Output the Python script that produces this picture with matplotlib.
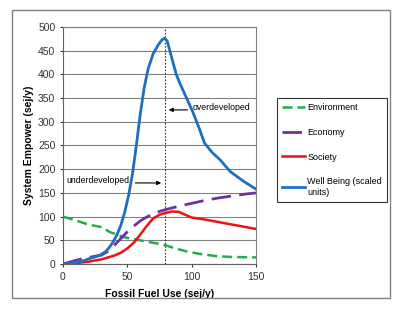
import matplotlib.pyplot as plt
from matplotlib.patches import Rectangle

plt.rcParams['font.family'] = ['Liberation Sans', 'DejaVu Sans']

# Data
env_x = [0, 10, 20, 30, 36, 42, 47, 52, 60, 70, 78, 85, 90, 97, 105, 118, 130, 150]
env_y = [100, 92, 83, 78, 68, 62, 57, 54, 50, 45, 41, 35, 31, 26, 22, 17, 15, 14]

eco_x = [0, 10, 20, 30, 35, 40, 45, 50, 55, 60, 65, 70, 75, 80, 90, 100, 110, 120, 130, 140, 150]
eco_y = [0, 8, 14, 19, 27, 40, 54, 68, 80, 91, 99, 106, 111, 115, 122, 128, 134, 139, 143, 147, 150]

soc_x = [0, 10, 20, 30, 40, 45, 50, 55, 60, 65, 70, 75, 80, 85, 90, 95, 100, 110, 120, 130, 140, 150]
soc_y = [0, 2, 5, 10, 18, 24, 33, 45, 62, 80, 96, 104, 108, 111, 110, 104, 98, 94, 89, 84, 79, 74]

wb_x = [0, 10, 16, 20, 25, 29, 33, 36, 39, 42, 45, 48, 51, 54, 57, 60, 63, 66, 70, 74, 77, 79,
        81, 84, 88, 91, 96, 101, 106, 110, 116, 122, 130, 140, 150]
wb_y = [0, 3, 7, 11, 15, 19, 26, 35, 47, 62, 82, 110, 145, 190, 250, 315, 370, 410, 443, 462, 473, 476,
        470, 440, 400, 380, 350, 320, 285, 255, 235, 220, 195, 175, 158]

threshold = 79

fig = plt.figure(figsize=(4.0, 3.24), dpi=100)
fig.patches.append(Rectangle((0.03, 0.08), 0.945, 0.889, transform=fig.transFigure,
                             fill=False, edgecolor='#808080', linewidth=1.0))

ax = fig.add_axes([0.1575, 0.185, 0.4825, 0.732])
ax.plot(env_x, env_y, color='#22ad4c', lw=1.8, ls=(0, (4, 2)), label='Environment')
ax.plot(eco_x, eco_y, color='#7030a0', lw=2.0, ls=(0, (7, 3)), label='Economy')
ax.plot(soc_x, soc_y, color='#ee1111', lw=1.8, label='Society')
ax.plot(wb_x, wb_y, color='#1f6fc0', lw=2.0, label='Well Being (scaled\nunits)')
ax.axvline(threshold, color='#333333', lw=0.8, ls=(0, (1.5, 1.5)), zorder=1)

ax.annotate('', xy=(threshold + 1, 325), xytext=(99, 325),
            arrowprops=dict(arrowstyle='-|>', color='black', lw=0.8, mutation_scale=6))
ax.text(101, 331, 'overdeveloped', fontsize=6.3, va='center', ha='left')
ax.annotate('', xy=(threshold - 0.5, 171), xytext=(54, 171),
            arrowprops=dict(arrowstyle='-|>', color='black', lw=0.8, mutation_scale=6))
ax.text(3, 177, 'underdeveloped', fontsize=6.3, va='center', ha='left')

ax.set_xlim(0, 150)
ax.set_ylim(0, 500)
ax.set_xticks([0, 50, 100, 150])
ax.set_yticks(range(0, 501, 50))
ax.yaxis.grid(True, color='#808080', lw=0.8)
ax.set_axisbelow(True)
ax.tick_params(labelsize=7.5, length=2, colors='#333333')
for s in ['top', 'right']:
    ax.spines[s].set_color('#808080')
for s in ['left', 'bottom']:
    ax.spines[s].set_color('#606060')
ax.set_xlabel('Fossil Fuel Use (sej/y)', fontsize=7.5, fontweight='bold', labelpad=5)
ax.set_ylabel('System Empower (sej/y)', fontsize=7.5, fontweight='bold', labelpad=3)

leg = fig.legend(loc='upper left', bbox_to_anchor=(0.68, 0.713), fontsize=6.5,
                 labelspacing=1.75, handlelength=2.6, handletextpad=0.2,
                 frameon=True, fancybox=False, edgecolor='black', borderpad=0.6)
leg.get_frame().set_linewidth(0.8)

fig.savefig('out.png', dpi=100)
